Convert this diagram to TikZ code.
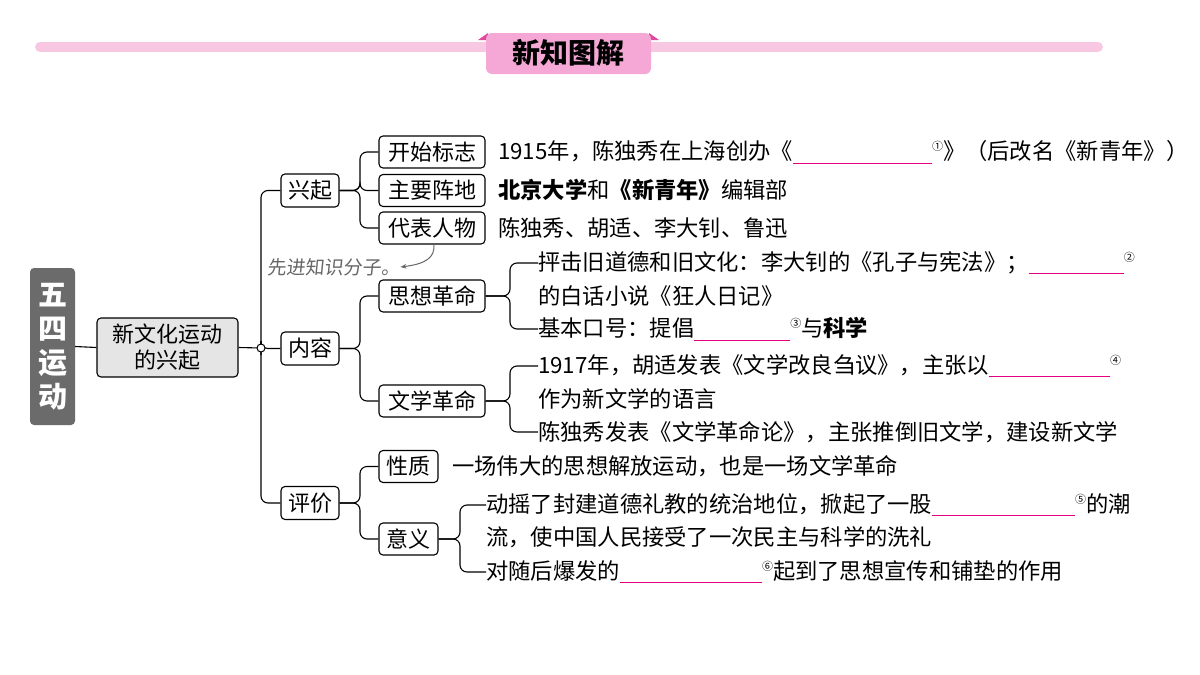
\documentclass[tikz,border=0pt]{standalone}
\usepackage{fontspec}
\setmainfont{Noto Sans CJK SC}
\newfontfamily\hand{Noto Sans CJK SC}[FakeSlant=0.1]
\usetikzlibrary{arrows.meta}
\definecolor{bandpink}{HTML}{F8C8E2}
\definecolor{tabpink}{HTML}{F5A8D6}
\definecolor{darkpink}{HTML}{E0489C}
\definecolor{blank}{HTML}{E4007F}
\newcommand{\blk}[2]{\textcolor{blank}{\rule[-4pt]{#1pt}{1pt}}\raisebox{9pt}{\fontsize{11}{11}\selectfont #2}}
\begin{document}
\begin{tikzpicture}[x=1pt,y=-1pt,
  lbl/.style={draw,line width=1.1pt,rounded corners=4pt,inner xsep=3pt,inner ysep=3pt,font=\fontsize{22}{25}\selectfont},
  txt/.style={anchor=west,inner sep=0pt,font=\fontsize{22.3}{25}\selectfont},
  con/.style={line width=1.1pt,rounded corners=7pt}]
\useasboundingbox (0,0) rectangle (1200,675);
% banner
\draw[bandpink,line width=10pt,line cap=round] (40,47) -- (1098,47);
\fill[darkpink] (478,40) -- (488,33) -- (488,40) -- cycle;
\fill[darkpink] (659,40) -- (649,33) -- (649,40) -- cycle;
\fill[tabpink,rounded corners=6pt] (486,33) -- (651,33) -- (651,74) -- (486,74) -- cycle;
\node[inner sep=0pt,font=\fontsize{28}{30}\selectfont\bfseries] (title) at (568,53) {新知图解};
% root
\node[fill=black!58,rounded corners=4pt,minimum width=45pt,minimum height=157pt,inner sep=0pt,text=white,font=\fontsize{29}{34}\selectfont\bfseries,align=center] (root) at (52.5,346.5) {五\\四\\运\\动};
\node[lbl,fill=black!10,align=center,minimum width=141pt,minimum height=59pt,font=\fontsize{22}{26}\selectfont] (main) at (167.5,347.5) {新文化运动\\的兴起};
\draw[line width=1.1pt] (root.east) -- (main.west);
\coordinate (j) at (261,348);
\node[lbl,minimum width=58pt,minimum height=33pt] (xq) at (310,190.5) {兴起};
\node[lbl,minimum width=58pt,minimum height=33pt] (nr) at (310,348.5) {内容};
\node[lbl,minimum width=58pt,minimum height=33pt] (pj) at (310,503) {评价};
\draw[line width=1.1pt] (main.east) -- (j);
\foreach \n in {xq,nr,pj}{\draw[con] (j) -- (261,348) |- (\n.west);}
\draw[line width=1pt,fill=white] (j) circle (4pt);
% 兴起
\node[lbl,minimum width=106pt,minimum height=32pt] (ks) at (432,152) {开始标志};
\node[lbl,minimum width=106pt,minimum height=32pt] (zy) at (432,190.5) {主要阵地};
\node[lbl,minimum width=106pt,minimum height=32pt] (db) at (432,228) {代表人物};
\foreach \n in {ks,zy,db}{\draw[con] (xq.east) -- (360,190.5) |- (\n.west);}
\node[txt] (t1) at (498,152) {1915年，陈独秀在上海创办《\blk{139}{①}》（后改名《新青年》）};
\node[txt] (t2) at (498,190) {\textbf{北京大学}和\textbf{《新青年》}编辑部};
\node[txt] (t3) at (498,228) {陈独秀、胡适、李大钊、鲁迅};
\node[txt,text=black!60,font=\fontsize{19}{22}\selectfont\hand] (note) at (267,267) {先进知识分子。};
\draw[black!60,line width=1pt,-{Stealth[length=6pt]}] (db.south) ++(2,0) .. controls (435,258) and (425,264) .. (note.east);
% 内容
\node[lbl,minimum width=106pt,minimum height=32pt] (sx) at (432,296) {思想革命};
\node[lbl,minimum width=106pt,minimum height=32pt] (wx) at (432,401) {文学革命};
\foreach \n in {sx,wx}{\draw[con] (nr.east) -- (360,348.5) |- (\n.west);}
\node[txt] (s1) at (538,263) {抨击旧道德和旧文化：李大钊的《孔子与宪法》；\blk{95}{②}};
\node[txt] (s2) at (538,296) {的白话小说《狂人日记》};
\node[txt] (s3) at (538,329) {基本口号：提倡\blk{96}{③}与\textbf{科学}};
\foreach \n in {s1,s3}{\draw[con] (sx.east) -- (510,296) |- (\n.west);}
\node[txt] (w1) at (538,366) {1917年，胡适发表《文学改良刍议》，主张以\blk{121}{④}};
\node[txt] (w2) at (538,399) {作为新文学的语言};
\node[txt] (w3) at (538,432) {陈独秀发表《文学革命论》，主张推倒旧文学，建设新文学};
\foreach \n in {w1,w3}{\draw[con] (wx.east) -- (510,401) |- (\n.west);}
% 评价
\node[lbl,minimum width=59pt,minimum height=32pt] (xz) at (408.5,466.5) {性质};
\node[lbl,minimum width=59pt,minimum height=32pt] (yy) at (408.5,539) {意义};
\foreach \n in {xz,yy}{\draw[con] (pj.east) -- (360,503) |- (\n.west);}
\node[txt] (x1) at (452,466) {一场伟大的思想解放运动，也是一场文学革命};
\node[txt] (y1) at (486,505) {动摇了封建道德礼教的统治地位，掀起了一股\blk{143}{⑤}的潮};
\node[txt] (y2) at (486,537) {流，使中国人民接受了一次民主与科学的洗礼};
\node[txt] (y3) at (486,572) {对随后爆发的\blk{142}{⑥}起到了思想宣传和铺垫的作用};
\foreach \n in {y1,y3}{\draw[con] (yy.east) -- (460,539) |- (\n.west);}
\end{tikzpicture}
\end{document}
